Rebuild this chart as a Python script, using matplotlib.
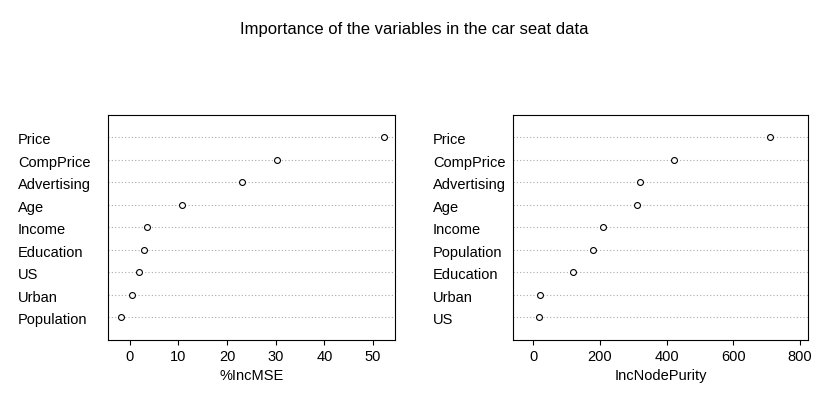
import matplotlib
matplotlib.use("Agg")
import matplotlib.pyplot as plt
from matplotlib.transforms import blended_transform_factory

plt.rcParams['font.family'] = ['Liberation Sans', 'DejaVu Sans']

mse_vars = ["Price", "CompPrice", "Advertising", "Age", "Income", "Education", "US", "Urban", "Population"]
mse_vals = [52.2, 30.3, 23.0, 10.7, 3.5, 3.0, 2.0, 0.4, -1.8]
np_vars = ["Price", "CompPrice", "Advertising", "Age", "Income", "Population", "Education", "Urban", "US"]
np_vals = [710, 422, 320, 311, 210, 180, 120, 21, 18]

fig = plt.figure(figsize=(8.28, 4.16), dpi=100)
fig.text(0.5, 0.93, "Importance of the variables in the car seat data", ha='center', va='center', fontsize=12)

def panel(rect, names, vals, xlabel, xlim, ticks, label_x):
    ax = fig.add_axes(rect)
    n = len(names)
    ys = list(range(n, 0, -1))
    for y in ys:
        ax.axhline(y, color='#aaaaaa', linestyle=(0, (1, 2)), linewidth=0.8, zorder=1)
    ax.scatter(vals, ys, s=18, facecolors='white', edgecolors='black', linewidths=0.8, zorder=3)
    ax.set_ylim(0.0, n + 1.0)
    ax.set_xlim(*xlim)
    ax.set_xticks(ticks)
    ax.set_yticks([])
    ax.set_xlabel(xlabel, fontsize=10.5)
    ax.tick_params(axis='x', labelsize=10.5)
    tr = blended_transform_factory(fig.transFigure, ax.transData)
    for nm, y in zip(names, ys):
        fig.text(label_x, 0, nm, transform=tr, fontsize=10.5, ha='left', va='center').set_y(y - 0.12)
    for sp in ax.spines.values():
        sp.set_linewidth(0.8)
    return ax

panel([0.130, 0.183, 0.347, 0.541], mse_vars, mse_vals, "%IncMSE", (-4.5, 54.5), [0, 10, 20, 30, 40, 50], 18/828)
panel([0.620, 0.183, 0.356, 0.541], np_vars, np_vals, "IncNodePurity", (-60, 824), [0, 200, 400, 600, 800], 433/828)

fig.savefig("out.png", dpi=100)
